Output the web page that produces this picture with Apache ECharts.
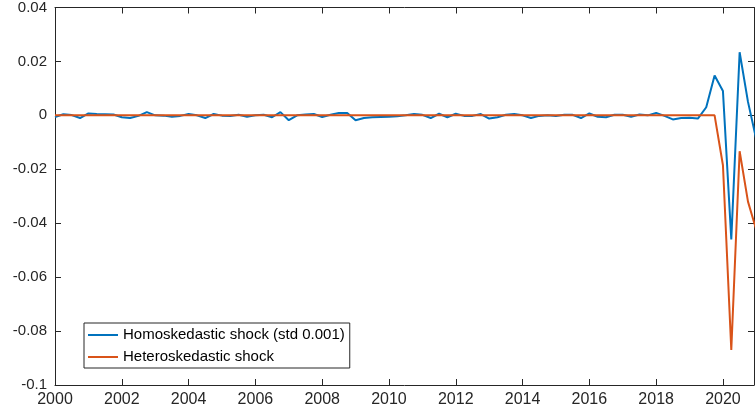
<!DOCTYPE html>
<html>
<head>
<meta charset="utf-8">
<script src="https://cdn.jsdelivr.net/npm/echarts@6/dist/echarts.min.js"></script>
<style>
html,body{margin:0;padding:0;background:#fff;}
#c{width:755px;height:415px;}
</style>
</head>
<body>
<div id="c"></div>
<script>
// Quarterly observations, 2000Q1 .. 2021Q1
var startYear = 2000;
var homoskedastic = [
 -0.0006, 0.0004, 0.0001, -0.0010, 0.0007, 0.0005, 0.0004, 0.0003,
 -0.0007, -0.0010, -0.0002, 0.0012, 0.0000, -0.0001, -0.0005, -0.0002,
 0.0005, 0.0000, -0.0010, 0.0005, -0.0001, -0.0002, 0.0002, -0.0005,
 0.0000, 0.0002, -0.0007, 0.0012, -0.0018, 0.0000, 0.0003, 0.0005,
 -0.0006, 0.0002, 0.0009, 0.0009, -0.0018, -0.0010, -0.0007, -0.0006,
 -0.0005, -0.0003, 0.0000, 0.0005, 0.0002, -0.0010, 0.0006, -0.0007,
 0.0006, -0.0002, -0.0002, 0.0005, -0.0012, -0.0007, 0.0002, 0.0005,
 0.0000, -0.0010, -0.0002, 0.0000, -0.0002, 0.0002, 0.0002, -0.0010,
 0.0007, -0.0005, -0.0007, 0.0002, 0.0002, -0.0005, 0.0003, 0.0000,
 0.0009, -0.0002, -0.0015, -0.0010, -0.0009, -0.0012, 0.0030, 0.0148,
 0.0090, -0.0460, 0.0234, 0.0050, -0.0090
];
var heteroskedastic = [
 0,0,0,0,0,0,0,0,0,0,0,0,0,0,0,0,0,0,0,0,
 0,0,0,0,0,0,0,0,0,0,0,0,0,0,0,0,0,0,0,0,
 0,0,0,0,0,0,0,0,0,0,0,0,0,0,0,0,0,0,0,0,
 0,0,0,0,0,0,0,0,0,0,0,0,0,0,0,0,0,0,0,0,
 -0.0185, -0.0870, -0.0133, -0.0320, -0.0425
];
var xTicks = [2000,2002,2004,2006,2008,2010,2012,2014,2016,2018,2020];
var yTicks = [-0.1,-0.08,-0.06,-0.04,-0.02,0,0.02,0.04];
var seriesNames = ['Homoskedastic shock (std 0.001)', 'Heteroskedastic shock'];

function toPairs(arr){
  return arr.map(function(v,i){ return [startYear + i/4, v]; });
}

var axisColor = '#262626';
var font = '"Liberation Sans", Arial, Helvetica, sans-serif';

function xAx(pos, labels){
  return {
    type:'value', position:pos, min:2000, max:2020.93,
    axisLine:{show:true, onZero:false, lineStyle:{color:axisColor, width:1}},
    axisTick:{show:true, inside:true, length:6, customValues:xTicks, lineStyle:{color:axisColor}},
    axisLabel:{show:labels, customValues:xTicks, margin:7, color:axisColor, fontSize:16, fontFamily:font,
      formatter:function(v){ return String(Math.round(v)); }},
    splitLine:{show:false}
  };
}
function yAx(pos, labels){
  return {
    type:'value', position:pos, min:-0.1, max:0.04,
    axisLine:{show:true, onZero:false, lineStyle:{color:axisColor, width:1}},
    axisTick:{show:true, inside:true, length:6, customValues:yTicks, lineStyle:{color:axisColor}},
    axisLabel:{show:labels, customValues:yTicks, margin:8, color:axisColor, fontSize:15, fontFamily:font,
      formatter:function(v){ return String(parseFloat(v.toFixed(3))); }},
    splitLine:{show:false}
  };
}

var chart = echarts.init(document.getElementById('c'), null, {renderer:'canvas'});
chart.setOption({
  animation:false,
  backgroundColor:'#ffffff',
  grid:{left:55, right:1, top:5, bottom:30, containLabel:false},
  xAxis:[xAx('bottom', true), xAx('top', false)],
  yAxis:[yAx('left', true), yAx('right', false)],
  legend:{
    orient:'vertical', left:84, top:323,
    backgroundColor:'#ffffff', borderColor:axisColor, borderWidth:1,
    padding:[3,5,2,4], itemGap:4, itemWidth:30, itemHeight:2,
    icon:'rect',
    textStyle:{color:'#000', fontSize:15, fontFamily:font, lineHeight:18},
    data:seriesNames
  },
  series:[
    {name:seriesNames[0], type:'line', data:toPairs(homoskedastic), showSymbol:false,
     lineStyle:{color:'#0072BD', width:2}, itemStyle:{color:'#0072BD'}, clip:true},
    {name:seriesNames[1], type:'line', data:toPairs(heteroskedastic), showSymbol:false,
     lineStyle:{color:'#D95319', width:2}, itemStyle:{color:'#D95319'}, clip:true}
  ]
});
</script>
</body>
</html>
